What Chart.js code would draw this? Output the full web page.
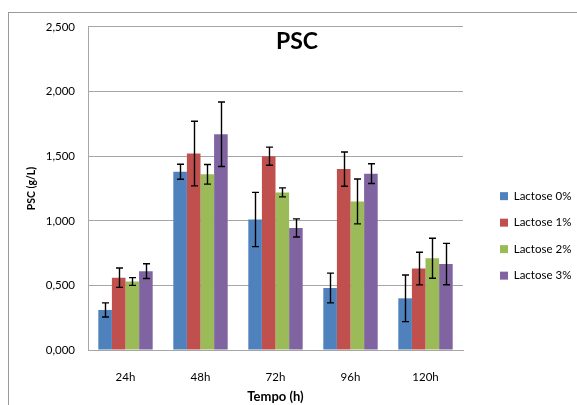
<!DOCTYPE html>
<html>
<head>
<meta charset="utf-8">
<script src="https://cdn.jsdelivr.net/npm/chart.js@4/dist/chart.umd.min.js"></script>
<style>
  body { margin: 0; background: #fff; }
  #wrap { position: relative; width: 577px; height: 405px; overflow: hidden; }
  #frame { position: absolute; left: 8px; top: 12px; width: 700px; height: 500px;
           border-top: 1px solid #9a9a9a; border-left: 1px solid #9a9a9a; }
  #chart { position: absolute; left: 0; top: 0; }
</style>
</head>
<body>
<div id="wrap">
  <div id="frame"></div>
  <canvas id="chart" width="577" height="405"></canvas>
</div>
<script>
const CATEGORIES = ['24h', '48h', '72h', '96h', '120h'];
const SERIES = ['Lactose 0%', 'Lactose 1%', 'Lactose 2%', 'Lactose 3%'];
const COLORS = ['#4F81BD', '#C0504D', '#9BBB59', '#8064A2'];

const LACT0 = [0.31, 1.38, 1.01, 0.48, 0.40];
const LACT1 = [0.56, 1.52, 1.50, 1.40, 0.63];
const LACT2 = [0.53, 1.36, 1.22, 1.15, 0.71];
const LACT3 = [0.61, 1.67, 0.945, 1.365, 0.665];

const ERR0 = [0.055, 0.058, 0.21, 0.115, 0.18];
const ERR1 = [0.075, 0.25, 0.07, 0.133, 0.126];
const ERR2 = [0.03, 0.076, 0.035, 0.174, 0.155];
const ERR3 = [0.057, 0.25, 0.07, 0.076, 0.16];

const Y_TICKS = ['0,000', '0,500', '1,000', '1,500', '2,000', '2,500'];

const VALUES = [LACT0, LACT1, LACT2, LACT3];
const ERRORS = [ERR0, ERR1, ERR2, ERR3];

const FONT = 'Lato, "Open Sans", sans-serif';
const GRID = '#a6a6a6';

// error bars drawn from the y scale
const errorBars = {
  id: 'errorBars',
  afterDatasetsDraw(chart) {
    const { ctx } = chart;
    const y = chart.scales.y;
    ctx.save();
    ctx.strokeStyle = '#000';
    ctx.lineWidth = 1.4;
    chart.data.datasets.forEach((ds, di) => {
      const meta = chart.getDatasetMeta(di);
      meta.data.forEach((bar, i) => {
        const v = ds.data[i];
        const e = ERRORS[di][i];
        const top = y.getPixelForValue(v + e);
        const bot = y.getPixelForValue(v - e);
        const x = Math.round(bar.x) + 0.5;
        ctx.beginPath();
        ctx.moveTo(x, top);
        ctx.lineTo(x, bot);
        ctx.moveTo(x - 3.5, top);
        ctx.lineTo(x + 3.5, top);
        ctx.moveTo(x - 3.5, bot);
        ctx.lineTo(x + 3.5, bot);
        ctx.stroke();
      });
    });
    ctx.restore();
  },
};

Chart.defaults.font.family = FONT;
Chart.defaults.color = '#000';

new Chart(document.getElementById('chart'), {
  type: 'bar',
  data: {
    labels: CATEGORIES,
    datasets: SERIES.map((name, i) => ({
      label: name,
      data: VALUES[i],
      backgroundColor: COLORS[i],
      borderWidth: 0,
      categoryPercentage: 0.725,
      barPercentage: 1,
      yAxisID: 'y',
    })),
  },
  options: {
    responsive: false,
    devicePixelRatio: 1,
    animation: false,
    layout: { padding: { left: 17, right: 0, top: 0, bottom: 0 } },
    plugins: {
      title: {
        display: true,
        text: 'PSC',
        font: { size: 23, weight: 'bold' },
        color: '#000',
        padding: { top: 28, bottom: -28.6 },
      },
      legend: {
        position: 'right',
        align: 'start',
        maxWidth: 92,
        title: { display: true, text: '', font: { size: 12 }, padding: { top: 161, bottom: 0 } },
        labels: {
          boxWidth: 8,
          boxHeight: 8,
          padding: 15,
          font: { size: 11.5 },
          color: '#000',
        },
      },
      tooltip: { enabled: false },
    },
    scales: {
      x: {
        grid: { display: false },
        border: { display: true, color: GRID, width: 1 },
        ticks: { padding: 12, font: { size: 11.5 } },
        title: { display: true, text: 'Tempo (h)', font: { size: 13, weight: 'bold' }, padding: { top: 6, bottom: 0 } },
        afterFit(s) { s.height = 55; },
      },
      y: {
        min: 0,
        max: 2.5,
        grid: { color: GRID, lineWidth: 1, drawTicks: false },
        border: { display: true, color: GRID, width: 1 },
        ticks: {
          stepSize: 0.5,
          padding: 13,
          font: { size: 11.5 },
          callback: (v, i) => Y_TICKS[i],
        },
        title: { display: true, text: 'PSC (g/L)', font: { size: 10.5, weight: 'bold' }, padding: { top: 8, bottom: 0 } },
        afterFit(s) { s.width = 71; },
      },
      gap: {
        position: 'right',
        display: true,
        grid: { display: false },
        border: { display: false },
        ticks: { display: false },
        afterFit(s) { s.width = 22; },
      },
    },
  },
  plugins: [errorBars],
});
</script>
</body>
</html>
